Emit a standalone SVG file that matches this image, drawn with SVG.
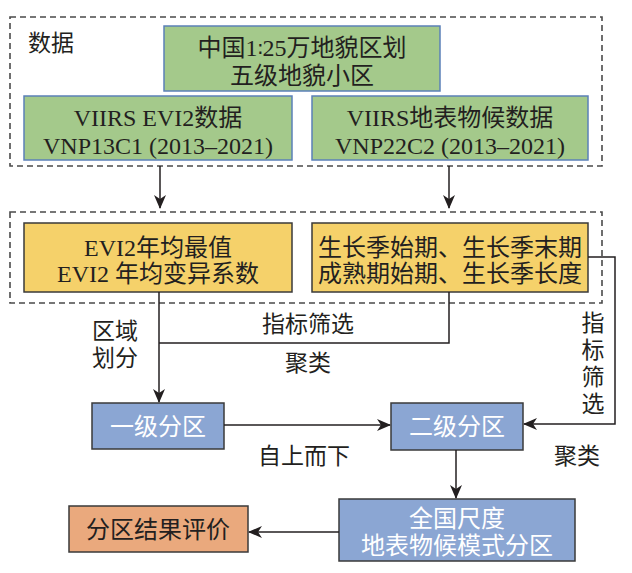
<svg xmlns="http://www.w3.org/2000/svg" width="632" height="573" viewBox="0 0 632 573">
<style>
text{font-family:"Liberation Serif","Noto Sans CJK SC",sans-serif;font-size:24px;fill:#231f20}
.c{text-anchor:middle}
.w{fill:#ffffff}
.dash{fill:none;stroke:#4a4a4a;stroke-width:1.6;stroke-dasharray:6 4}
.green{fill:#a4c98b;stroke:#5b80b8;stroke-width:1.5}
.yellow{fill:#f5d16a;stroke:#3a3a3a;stroke-width:1.5}
.blue{fill:#8ba6d3;stroke:#3a3a3a;stroke-width:1.5}
.orange{fill:#eaa97d;stroke:#3a3a3a;stroke-width:1.5}
.ln{fill:none;stroke:#231f20;stroke-width:1.5}
.lab{font-size:23px}
.ratio{font-family:"DejaVu Sans","Liberation Serif",sans-serif;font-size:20px}
</style>
<defs>
<marker id="ah" markerUnits="userSpaceOnUse" markerWidth="14" markerHeight="12" viewBox="0 0 14 12" refX="13" refY="6" orient="auto">
<path d="M0,0 L14,6 L0,12 L4,6 z" fill="#231f20"/>
</marker>
</defs>
<g id="groups">
<rect class="dash" x="10" y="17" width="592" height="149"/>
<rect class="dash" x="10" y="212" width="592" height="91"/>
<text class="lab" x="28" y="51">数据</text>
</g>
<g id="n_terrain">
<rect class="green" x="164" y="26" width="276" height="65"/>
<text class="c" x="302" y="56">中国1<tspan class="ratio">∶</tspan>25万地貌区划</text>
<text class="c" x="302" y="84">五级地貌小区</text>
</g>
<g id="n_evi2data">
<rect class="green" x="24" y="96" width="268" height="64"/>
<text class="c" x="158" y="126">VIIRS EVI2数据</text>
<text class="c" x="158" y="154">VNP13C1 (2013–2021)</text>
</g>
<g id="n_phenodata">
<rect class="green" x="312" y="96" width="276" height="64"/>
<text class="c" x="450" y="126">VIIRS地表物候数据</text>
<text class="c" x="450" y="154">VNP22C2 (2013–2021)</text>
</g>
<g id="n_evi2idx">
<rect class="yellow" x="24" y="223" width="268" height="69"/>
<text class="c" x="158" y="256">EVI2年均最值</text>
<text class="c" x="158" y="282">EVI2 年均变异系数</text>
</g>
<g id="n_phenoidx">
<rect class="yellow" x="312" y="223" width="276" height="69"/>
<text class="c" x="450" y="256">生长季始期、生长季末期</text>
<text class="c" x="450" y="282">成熟期始期、生长季长度</text>
</g>
<g id="n_level1">
<rect class="blue" x="92" y="403" width="132" height="46"/>
<text class="c w" x="158" y="435">一级分区</text>
</g>
<g id="n_level2">
<rect class="blue" x="391" y="403" width="132" height="47"/>
<text class="c w" x="457" y="435">二级分区</text>
</g>
<g id="n_national">
<rect class="blue" x="339" y="499" width="236" height="62"/>
<text class="c w" x="457" y="527">全国尺度</text>
<text class="c w" x="457" y="554">地表物候模式分区</text>
</g>
<g id="n_eval">
<rect class="orange" x="69" y="506" width="179" height="46"/>
<text class="c" x="158" y="538">分区结果评价</text>
</g>
<g id="connectors">
<line class="ln" x1="160" y1="166" x2="160" y2="208" marker-end="url(#ah)"/>
<line class="ln" x1="449" y1="166" x2="449" y2="208" marker-end="url(#ah)"/>
<line class="ln" x1="159" y1="292" x2="159" y2="402" marker-end="url(#ah)"/>
<polyline class="ln" points="449,292 449,343 159,343"/>
<polyline class="ln" points="588,257 615,257 615,424 524,424" marker-end="url(#ah)"/>
<line class="ln" x1="224" y1="425" x2="390" y2="425" marker-end="url(#ah)"/>
<line class="ln" x1="456" y1="450" x2="456" y2="498" marker-end="url(#ah)"/>
<line class="ln" x1="339" y1="532" x2="249" y2="532" marker-end="url(#ah)"/>
</g>
<g id="labels">
<text class="lab" x="92" y="339">区域</text>
<text class="lab" x="92" y="366">划分</text>
<text class="lab" x="262" y="332">指标筛选</text>
<text class="lab" x="285" y="371">聚类</text>
<text class="lab c" x="593" y="331">指</text>
<text class="lab c" x="593" y="358">标</text>
<text class="lab c" x="593" y="385">筛</text>
<text class="lab c" x="593" y="412">选</text>
<text class="lab" x="258" y="464">自上而下</text>
<text class="lab" x="554" y="464">聚类</text>
</g>
</svg>
